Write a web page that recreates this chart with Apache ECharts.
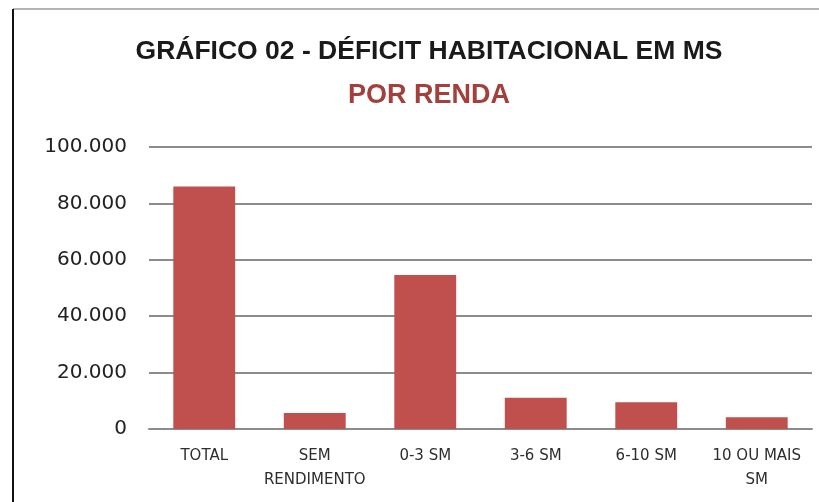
<!DOCTYPE html>
<html>
<head>
<meta charset="utf-8">
<script src="https://cdn.jsdelivr.net/npm/echarts@6/dist/echarts.min.js"></script>
<style>
  html, body { margin: 0; padding: 0; background: #fff; }
  #chart { width: 819px; height: 502px; }
</style>
</head>
<body>
<div id="chart"></div>
<script>
// dados
const categorias = ['TOTAL', 'SEM\nRENDIMENTO', '0-3 SM', '3-6 SM', '6-10 SM', '10 OU MAIS\nSM']
const deficit = [86000, 5700, 54600, 11100, 9500, 4200]
const yTicks = [0, 20000, 40000, 60000, 80000, 100000]

const chart = echarts.init(document.getElementById('chart'))

const fmt = v => v === 0 ? '0' : String(v).replace(/\B(?=(\d{3})+(?!\d))/g, '.')

const options = {
  animation: false,
  title: [
    {
      text: 'GRÁFICO 02 - DÉFICIT HABITACIONAL EM MS',
      left: 424,
      textAlign: 'center',
      top: 33,
      textStyle: {
        fontFamily: 'Liberation Sans, sans-serif',
        fontSize: 26.5,
        fontWeight: 'bold',
        color: '#1a1a1a'
      }
    },
    {
      text: 'POR RENDA',
      left: 424,
      textAlign: 'center',
      top: 77,
      textStyle: {
        fontFamily: 'Liberation Sans, sans-serif',
        fontSize: 27,
        fontWeight: 'bold',
        color: '#a3403c'
      }
    }
  ],
  grid: {
    left: 149,
    right: 7,
    top: 147,
    bottom: 73
  },
  xAxis: {
    type: 'category',
    data: categorias,
    axisTick: { show: false },
    axisLine: { lineStyle: { color: '#8c8c8c', width: 2 } },
    axisLabel: {
      interval: 0,
      margin: 15,
      color: '#2e2e2e',
      fontSize: 15,
      lineHeight: 24,
      fontFamily: 'DejaVu Sans, sans-serif'
    }
  },
  yAxis: {
    type: 'value',
    min: 0,
    max: yTicks[yTicks.length - 1],
    interval: yTicks[1] - yTicks[0],
    axisLine: { show: false },
    axisTick: { show: false },
    axisLabel: {
      margin: 22,
      color: '#222',
      fontSize: 20,
      fontFamily: 'DejaVu Sans, sans-serif',
      formatter: fmt
    },
    splitLine: { lineStyle: { color: '#8c8c8c', width: 2 } }
  },
  series: [{
    type: 'bar',
    data: deficit,
    barWidth: '56%',
    itemStyle: { color: '#c0504d' }
  }],
  graphic: [
    // moldura (linhas superior e esquerda)
    { type: 'line', shape: { x1: 13, y1: 9, x2: 819, y2: 9 }, style: { stroke: '#999', lineWidth: 1.5 } },
    { type: 'line', shape: { x1: 13, y1: 9, x2: 13, y2: 502 }, style: { stroke: '#111', lineWidth: 2 } }
  ]
}

chart.setOption(options)
</script>
</body>
</html>
